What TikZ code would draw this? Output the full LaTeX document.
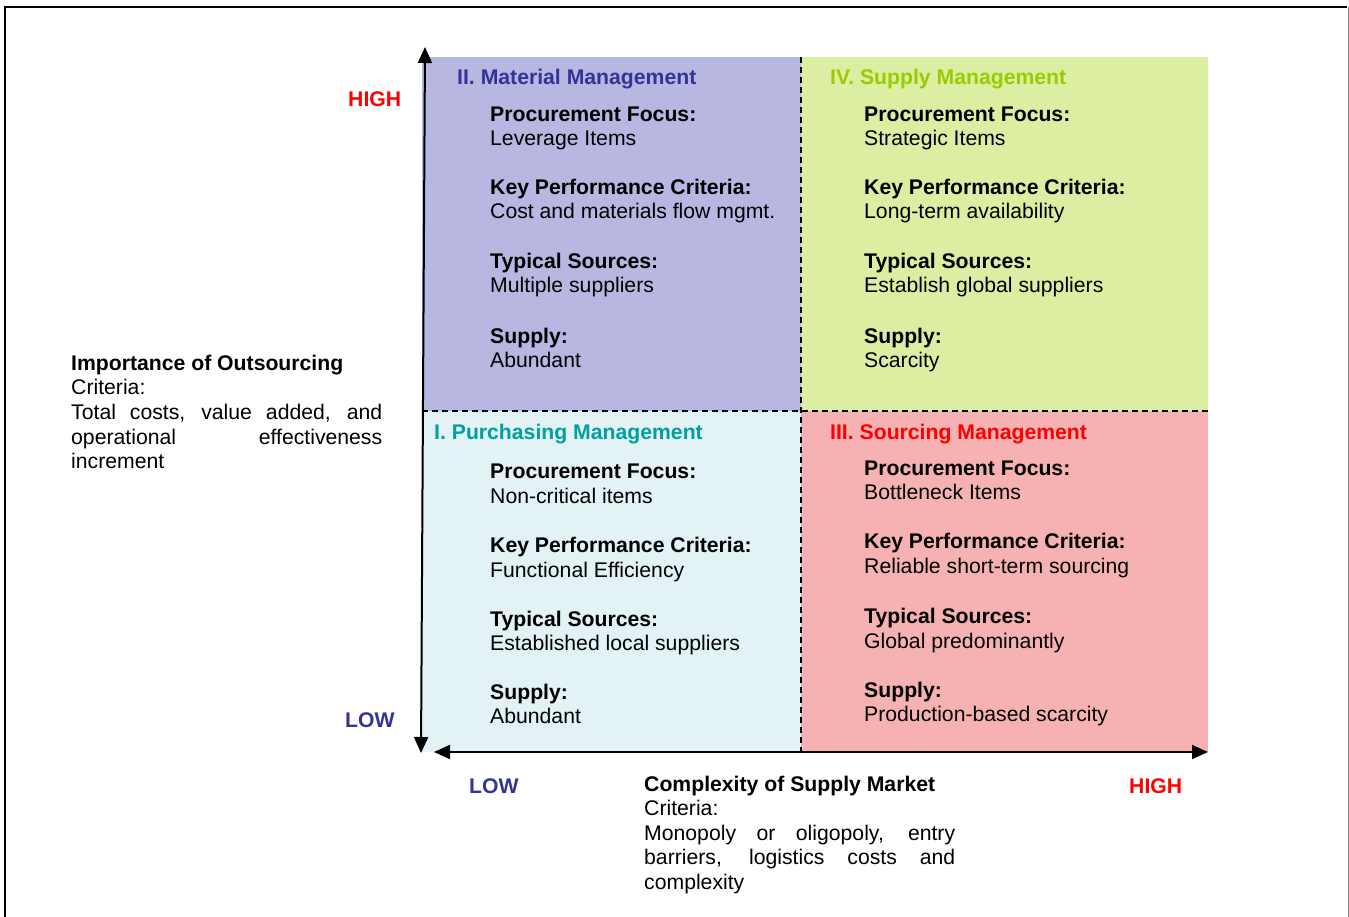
\documentclass[tikz,border=0pt]{standalone}
\usepackage{fontspec}
\setmainfont{Liberation Sans}
\usetikzlibrary{arrows.meta}
\definecolor{qblue}{HTML}{B7B7E2}
\definecolor{qgreen}{HTML}{DCEEA2}
\definecolor{qcyan}{HTML}{E3F2F5}
\definecolor{qred}{HTML}{F6B2B2}
\definecolor{dblue}{HTML}{333399}
\definecolor{hgreen}{HTML}{99CC00}
\definecolor{hteal}{HTML}{00A0A0}
\definecolor{hred}{HTML}{FF0000}
\begin{document}
\begin{tikzpicture}[x=1pt,y=-1pt,
  lbl/.style={anchor=base west, inner sep=0pt, font=\fontsize{21.2}{24}\selectfont},
  blbl/.style={lbl, font=\fontsize{21.2}{24}\selectfont\bfseries},
  axisarrow/.style={line width=2pt, {Triangle[length=16pt,width=14pt]}-{Triangle[length=16pt,width=14pt]}},
  divider/.style={line width=1.5pt, dash pattern=on 6pt off 4pt}]
\useasboundingbox (0,0) rectangle (1349,917);
% frame
\draw[line width=2pt] (5,917) -- (5,7) -- (1347,7);
\draw[gray, line width=1pt] (1348,7) -- (1348,917);
% quadrants
\fill[qblue] (422,57) rectangle (801,411);
\fill[qgreen] (801,57) rectangle (1208,411);
\fill[qcyan] (422,411) rectangle (801,752);
\fill[qred] (801,411) rectangle (1208,752);
% dividers
\coordinate (vtop) at (801,57);
\coordinate (vbot) at (801,752);
\coordinate (hl) at (422,411);
\coordinate (hr) at (1208,411);
\draw[divider] (vtop) -- (vbot);
\draw[divider] (hl) -- (hr);
% axes
\coordinate (ytop) at (425,47);
\coordinate (ybot) at (421,753);
\coordinate (xl) at (434,752);
\coordinate (xr) at (1208,752);
\draw[axisarrow] (ybot) -- (ytop);
\draw[axisarrow] (xl) -- (xr);
% axis labels
\node[blbl, text=hred] (yhigh) at (348,107) {HIGH};
\node[blbl, text=dblue] (ylow) at (345,727) {LOW};
\node[blbl, text=dblue] (xlow) at (469,793) {LOW};
\node[blbl, text=hred] (xhigh) at (1129,793) {HIGH};
% y axis title
\node[blbl] (yt1) at (71,370) {Importance of Outsourcing};
\node[lbl] (yt2) at (71,394) {Criteria:};
\node[lbl] (yt3) at (71,419) {\makebox[311pt][s]{Total costs, value added, and}};
\node[lbl] (yt4) at (71,444) {\makebox[311pt][s]{operational effectiveness}};
\node[lbl] (yt5) at (71,468) {increment};
% x axis title
\node[blbl] (xt1) at (644,791) {Complexity of Supply Market};
\node[lbl] (xt2) at (644,815) {Criteria:};
\node[lbl] (xt3) at (644,840) {\makebox[311pt][s]{Monopoly or oligopoly, entry}};
\node[lbl] (xt4) at (644,864) {\makebox[311pt][s]{barriers, logistics costs and}};
\node[lbl] (xt5) at (644,889) {complexity};
% Quadrant II
\node[blbl, text=dblue] (h2) at (457,85) {II. Material Management};
\node[blbl] (a1) at (490,122) {Procurement Focus:};
\node[lbl] (a2) at (490,146) {Leverage Items};
\node[blbl] (a3) at (490,195) {Key Performance Criteria:};
\node[lbl] (a4) at (490,219) {Cost and materials flow mgmt.};
\node[blbl] (a5) at (490,269) {Typical Sources:};
\node[lbl] (a6) at (490,293) {Multiple suppliers};
\node[blbl] (a7) at (490,343) {Supply:};
\node[lbl] (a8) at (490,367) {Abundant};
% Quadrant IV
\node[blbl, text=hgreen] (h4) at (830,85) {IV. Supply Management};
\node[blbl] (b1) at (864,122) {Procurement Focus:};
\node[lbl] (b2) at (864,146) {Strategic Items};
\node[blbl] (b3) at (864,195) {Key Performance Criteria:};
\node[lbl] (b4) at (864,219) {Long-term availability};
\node[blbl] (b5) at (864,269) {Typical Sources:};
\node[lbl] (b6) at (864,293) {Establish global suppliers};
\node[blbl] (b7) at (864,343) {Supply:};
\node[lbl] (b8) at (864,367) {Scarcity};
% Quadrant I
\node[blbl, text=hteal] (h1) at (434,439) {I. Purchasing Management};
\node[blbl] (c1) at (490,478) {Procurement Focus:};
\node[lbl] (c2) at (490,503) {Non-critical items};
\node[blbl] (c3) at (490,552) {Key Performance Criteria:};
\node[lbl] (c4) at (490,577) {Functional Efficiency};
\node[blbl] (c5) at (490,626) {Typical Sources:};
\node[lbl] (c6) at (490,650) {Established local suppliers};
\node[blbl] (c7) at (490,699) {Supply:};
\node[lbl] (c8) at (490,723) {Abundant};
% Quadrant III
\node[blbl, text=hred] (h3) at (830,439) {III. Sourcing Management};
\node[blbl] (d1) at (864,475) {Procurement Focus:};
\node[lbl] (d2) at (864,499) {Bottleneck Items};
\node[blbl] (d3) at (864,548) {Key Performance Criteria:};
\node[lbl] (d4) at (864,573) {Reliable short-term sourcing};
\node[blbl] (d5) at (864,623) {Typical Sources:};
\node[lbl] (d6) at (864,648) {Global predominantly};
\node[blbl] (d7) at (864,697) {Supply:};
\node[lbl] (d8) at (864,721) {Production-based scarcity};
\end{tikzpicture}
\end{document}
